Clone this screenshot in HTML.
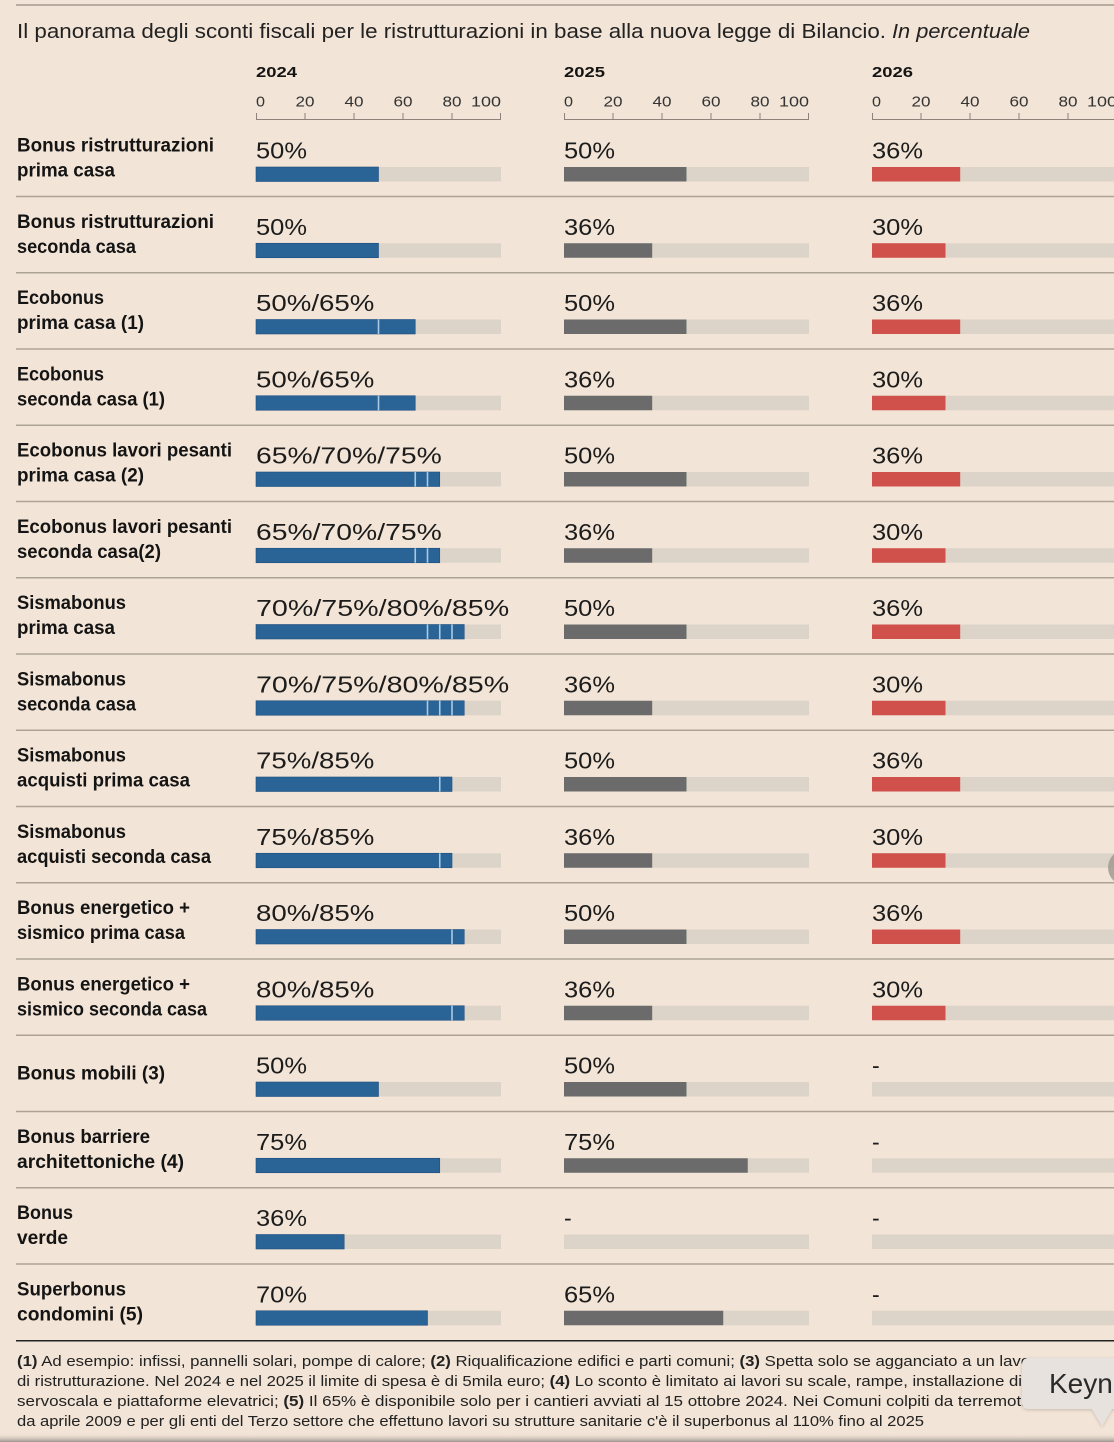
<!DOCTYPE html>
<html><head><meta charset="utf-8">
<style>
html,body{margin:0;padding:0;background:#f2e4d6;}
svg{display:block;}
text{font-family:"Liberation Sans",sans-serif;}
.n{font-size:19px;font-weight:bold;fill:#141414;}
.v{font-size:23px;fill:#1c1c1c;}
.tk{font-size:15px;fill:#333;}
.yr{font-size:15px;font-weight:bold;fill:#141414;}
.t{fill:#ddd4c9;}
.b{fill:#2a6395;stroke:#1f5080;stroke-width:0.6;}
.g{fill:#6b6b6b;}
.r{fill:#d0514b;}
.d{stroke:#a9cae6;stroke-width:1.6;}
.s{stroke:#aea398;stroke-width:1.5;}
.ax{stroke:#8c8279;stroke-width:1;fill:none;}
.f{font-size:15px;fill:#222;}
</style></head>
<body>
<svg width="1114" height="1442" viewBox="0 0 1114 1442" xmlns="http://www.w3.org/2000/svg">
<rect x="0" y="0" width="1114" height="1442" fill="#f2e4d6"/>
<line x1="16" y1="5" x2="1114" y2="5" stroke="#a39a91" stroke-width="1.5"/>

<text x="17" y="38" font-size="20" fill="#222" textLength="869" lengthAdjust="spacingAndGlyphs">Il panorama degli sconti fiscali per le ristrutturazioni in base alla nuova legge di Bilancio.</text>
<text x="892" y="38" font-size="20" font-style="italic" fill="#222" textLength="138" lengthAdjust="spacingAndGlyphs">In percentuale</text>

<!-- axes -->
<g>
<text class="yr" x="256" y="77" textLength="41" lengthAdjust="spacingAndGlyphs">2024</text>
<text class="yr" x="564" y="77" textLength="41" lengthAdjust="spacingAndGlyphs">2025</text>
<text class="yr" x="872" y="77" textLength="41" lengthAdjust="spacingAndGlyphs">2026</text>

<text class="tk" x="256" y="106.5" textLength="9" lengthAdjust="spacingAndGlyphs">0</text>
<text class="tk" x="295.5" y="106.5" textLength="19" lengthAdjust="spacingAndGlyphs">20</text>
<text class="tk" x="344.5" y="106.5" textLength="19" lengthAdjust="spacingAndGlyphs">40</text>
<text class="tk" x="393.5" y="106.5" textLength="19" lengthAdjust="spacingAndGlyphs">60</text>
<text class="tk" x="442.5" y="106.5" textLength="19" lengthAdjust="spacingAndGlyphs">80</text>
<text class="tk" x="471" y="106.5" textLength="30" lengthAdjust="spacingAndGlyphs">100</text>
<path class="ax" d="M256.5 113V119.5H500.5V113M305 113V119.5M354 113V119.5M403 113V119.5M452 113V119.5"/>

<text class="tk" x="564" y="106.5" textLength="9" lengthAdjust="spacingAndGlyphs">0</text>
<text class="tk" x="603.5" y="106.5" textLength="19" lengthAdjust="spacingAndGlyphs">20</text>
<text class="tk" x="652.5" y="106.5" textLength="19" lengthAdjust="spacingAndGlyphs">40</text>
<text class="tk" x="701.5" y="106.5" textLength="19" lengthAdjust="spacingAndGlyphs">60</text>
<text class="tk" x="750.5" y="106.5" textLength="19" lengthAdjust="spacingAndGlyphs">80</text>
<text class="tk" x="779" y="106.5" textLength="30" lengthAdjust="spacingAndGlyphs">100</text>
<path class="ax" d="M564.5 113V119.5H808.5V113M613 113V119.5M662 113V119.5M711 113V119.5M760 113V119.5"/>

<text class="tk" x="872" y="106.5" textLength="9" lengthAdjust="spacingAndGlyphs">0</text>
<text class="tk" x="911.5" y="106.5" textLength="19" lengthAdjust="spacingAndGlyphs">20</text>
<text class="tk" x="960.5" y="106.5" textLength="19" lengthAdjust="spacingAndGlyphs">40</text>
<text class="tk" x="1009.5" y="106.5" textLength="19" lengthAdjust="spacingAndGlyphs">60</text>
<text class="tk" x="1058.5" y="106.5" textLength="19" lengthAdjust="spacingAndGlyphs">80</text>
<text class="tk" x="1087" y="106.5" textLength="30" lengthAdjust="spacingAndGlyphs">100</text>
<path class="ax" d="M872.5 113V119.5H1116.5V113M921 113V119.5M970 113V119.5M1019 113V119.5M1068 113V119.5"/>
</g>

<!-- Row 1 -->
<g transform="translate(0,196.5)">
<text class="n" x="17" y="-45" textLength="197" lengthAdjust="spacingAndGlyphs">Bonus ristrutturazioni</text>
<text class="n" x="17" y="-20" textLength="98" lengthAdjust="spacingAndGlyphs">prima casa</text>
<text class="v" x="256" y="-38" textLength="51" lengthAdjust="spacingAndGlyphs">50%</text>
<rect class="t" x="256" y="-29.5" width="245" height="14.5"/>
<rect class="b" x="256" y="-29.5" width="122.5" height="14.5"/>
<text class="v" x="564" y="-38" textLength="51" lengthAdjust="spacingAndGlyphs">50%</text>
<rect class="t" x="564" y="-29.5" width="245" height="14.5"/>
<rect class="g" x="564" y="-29.5" width="122.5" height="14.5"/>
<text class="v" x="872" y="-38" textLength="51" lengthAdjust="spacingAndGlyphs">36%</text>
<rect class="t" x="872" y="-29.5" width="245" height="14.5"/>
<rect class="r" x="872" y="-29.5" width="88.2" height="14.5"/>
<line class="s" x1="16" y1="0" x2="1114" y2="0"/>
</g>

<!-- Row 2 -->
<g transform="translate(0,272.75)">
<text class="n" x="17" y="-45" textLength="197" lengthAdjust="spacingAndGlyphs">Bonus ristrutturazioni</text>
<text class="n" x="17" y="-20" textLength="119" lengthAdjust="spacingAndGlyphs">seconda casa</text>
<text class="v" x="256" y="-38" textLength="51" lengthAdjust="spacingAndGlyphs">50%</text>
<rect class="t" x="256" y="-29.5" width="245" height="14.5"/>
<rect class="b" x="256" y="-29.5" width="122.5" height="14.5"/>
<text class="v" x="564" y="-38" textLength="51" lengthAdjust="spacingAndGlyphs">36%</text>
<rect class="t" x="564" y="-29.5" width="245" height="14.5"/>
<rect class="g" x="564" y="-29.5" width="88.2" height="14.5"/>
<text class="v" x="872" y="-38" textLength="51" lengthAdjust="spacingAndGlyphs">30%</text>
<rect class="t" x="872" y="-29.5" width="245" height="14.5"/>
<rect class="r" x="872" y="-29.5" width="73.5" height="14.5"/>
<line class="s" x1="16" y1="0" x2="1114" y2="0"/>
</g>

<!-- Row 3 -->
<g transform="translate(0,349)">
<text class="n" x="17" y="-45" textLength="87" lengthAdjust="spacingAndGlyphs">Ecobonus</text>
<text class="n" x="17" y="-20" textLength="127" lengthAdjust="spacingAndGlyphs">prima casa (1)</text>
<text class="v" x="256" y="-38" textLength="118.4" lengthAdjust="spacingAndGlyphs">50%/65%</text>
<rect class="t" x="256" y="-29.5" width="245" height="14.5"/>
<rect class="b" x="256" y="-29.5" width="159.25" height="14.5"/>
<line class="d" x1="378.5" y1="-29.5" x2="378.5" y2="-15"/>
<text class="v" x="564" y="-38" textLength="51" lengthAdjust="spacingAndGlyphs">50%</text>
<rect class="t" x="564" y="-29.5" width="245" height="14.5"/>
<rect class="g" x="564" y="-29.5" width="122.5" height="14.5"/>
<text class="v" x="872" y="-38" textLength="51" lengthAdjust="spacingAndGlyphs">36%</text>
<rect class="t" x="872" y="-29.5" width="245" height="14.5"/>
<rect class="r" x="872" y="-29.5" width="88.2" height="14.5"/>
<line class="s" x1="16" y1="0" x2="1114" y2="0"/>
</g>

<!-- Row 4 -->
<g transform="translate(0,425.25)">
<text class="n" x="17" y="-45" textLength="87" lengthAdjust="spacingAndGlyphs">Ecobonus</text>
<text class="n" x="17" y="-20" textLength="148" lengthAdjust="spacingAndGlyphs">seconda casa (1)</text>
<text class="v" x="256" y="-38" textLength="118.4" lengthAdjust="spacingAndGlyphs">50%/65%</text>
<rect class="t" x="256" y="-29.5" width="245" height="14.5"/>
<rect class="b" x="256" y="-29.5" width="159.25" height="14.5"/>
<line class="d" x1="378.5" y1="-29.5" x2="378.5" y2="-15"/>
<text class="v" x="564" y="-38" textLength="51" lengthAdjust="spacingAndGlyphs">36%</text>
<rect class="t" x="564" y="-29.5" width="245" height="14.5"/>
<rect class="g" x="564" y="-29.5" width="88.2" height="14.5"/>
<text class="v" x="872" y="-38" textLength="51" lengthAdjust="spacingAndGlyphs">30%</text>
<rect class="t" x="872" y="-29.5" width="245" height="14.5"/>
<rect class="r" x="872" y="-29.5" width="73.5" height="14.5"/>
<line class="s" x1="16" y1="0" x2="1114" y2="0"/>
</g>

<!-- Row 5 -->
<g transform="translate(0,501.5)">
<text class="n" x="17" y="-45" textLength="215" lengthAdjust="spacingAndGlyphs">Ecobonus lavori pesanti</text>
<text class="n" x="17" y="-20" textLength="127" lengthAdjust="spacingAndGlyphs">prima casa (2)</text>
<text class="v" x="256" y="-38" textLength="185.8" lengthAdjust="spacingAndGlyphs">65%/70%/75%</text>
<rect class="t" x="256" y="-29.5" width="245" height="14.5"/>
<rect class="b" x="256" y="-29.5" width="183.75" height="14.5"/>
<line class="d" x1="415.25" y1="-29.5" x2="415.25" y2="-15"/>
<line class="d" x1="427.5" y1="-29.5" x2="427.5" y2="-15"/>
<text class="v" x="564" y="-38" textLength="51" lengthAdjust="spacingAndGlyphs">50%</text>
<rect class="t" x="564" y="-29.5" width="245" height="14.5"/>
<rect class="g" x="564" y="-29.5" width="122.5" height="14.5"/>
<text class="v" x="872" y="-38" textLength="51" lengthAdjust="spacingAndGlyphs">36%</text>
<rect class="t" x="872" y="-29.5" width="245" height="14.5"/>
<rect class="r" x="872" y="-29.5" width="88.2" height="14.5"/>
<line class="s" x1="16" y1="0" x2="1114" y2="0"/>
</g>

<!-- Row 6 -->
<g transform="translate(0,577.75)">
<text class="n" x="17" y="-45" textLength="215" lengthAdjust="spacingAndGlyphs">Ecobonus lavori pesanti</text>
<text class="n" x="17" y="-20" textLength="144" lengthAdjust="spacingAndGlyphs">seconda casa(2)</text>
<text class="v" x="256" y="-38" textLength="185.8" lengthAdjust="spacingAndGlyphs">65%/70%/75%</text>
<rect class="t" x="256" y="-29.5" width="245" height="14.5"/>
<rect class="b" x="256" y="-29.5" width="183.75" height="14.5"/>
<line class="d" x1="415.25" y1="-29.5" x2="415.25" y2="-15"/>
<line class="d" x1="427.5" y1="-29.5" x2="427.5" y2="-15"/>
<text class="v" x="564" y="-38" textLength="51" lengthAdjust="spacingAndGlyphs">36%</text>
<rect class="t" x="564" y="-29.5" width="245" height="14.5"/>
<rect class="g" x="564" y="-29.5" width="88.2" height="14.5"/>
<text class="v" x="872" y="-38" textLength="51" lengthAdjust="spacingAndGlyphs">30%</text>
<rect class="t" x="872" y="-29.5" width="245" height="14.5"/>
<rect class="r" x="872" y="-29.5" width="73.5" height="14.5"/>
<line class="s" x1="16" y1="0" x2="1114" y2="0"/>
</g>

<!-- Row 7 -->
<g transform="translate(0,654)">
<text class="n" x="17" y="-45" textLength="109" lengthAdjust="spacingAndGlyphs">Sismabonus</text>
<text class="n" x="17" y="-20" textLength="98" lengthAdjust="spacingAndGlyphs">prima casa</text>
<text class="v" x="256" y="-38" textLength="253.2" lengthAdjust="spacingAndGlyphs">70%/75%/80%/85%</text>
<rect class="t" x="256" y="-29.5" width="245" height="14.5"/>
<rect class="b" x="256" y="-29.5" width="208.25" height="14.5"/>
<line class="d" x1="427.5" y1="-29.5" x2="427.5" y2="-15"/>
<line class="d" x1="439.75" y1="-29.5" x2="439.75" y2="-15"/>
<line class="d" x1="452" y1="-29.5" x2="452" y2="-15"/>
<text class="v" x="564" y="-38" textLength="51" lengthAdjust="spacingAndGlyphs">50%</text>
<rect class="t" x="564" y="-29.5" width="245" height="14.5"/>
<rect class="g" x="564" y="-29.5" width="122.5" height="14.5"/>
<text class="v" x="872" y="-38" textLength="51" lengthAdjust="spacingAndGlyphs">36%</text>
<rect class="t" x="872" y="-29.5" width="245" height="14.5"/>
<rect class="r" x="872" y="-29.5" width="88.2" height="14.5"/>
<line class="s" x1="16" y1="0" x2="1114" y2="0"/>
</g>

<!-- Row 8 -->
<g transform="translate(0,730.25)">
<text class="n" x="17" y="-45" textLength="109" lengthAdjust="spacingAndGlyphs">Sismabonus</text>
<text class="n" x="17" y="-20" textLength="119" lengthAdjust="spacingAndGlyphs">seconda casa</text>
<text class="v" x="256" y="-38" textLength="253.2" lengthAdjust="spacingAndGlyphs">70%/75%/80%/85%</text>
<rect class="t" x="256" y="-29.5" width="245" height="14.5"/>
<rect class="b" x="256" y="-29.5" width="208.25" height="14.5"/>
<line class="d" x1="427.5" y1="-29.5" x2="427.5" y2="-15"/>
<line class="d" x1="439.75" y1="-29.5" x2="439.75" y2="-15"/>
<line class="d" x1="452" y1="-29.5" x2="452" y2="-15"/>
<text class="v" x="564" y="-38" textLength="51" lengthAdjust="spacingAndGlyphs">36%</text>
<rect class="t" x="564" y="-29.5" width="245" height="14.5"/>
<rect class="g" x="564" y="-29.5" width="88.2" height="14.5"/>
<text class="v" x="872" y="-38" textLength="51" lengthAdjust="spacingAndGlyphs">30%</text>
<rect class="t" x="872" y="-29.5" width="245" height="14.5"/>
<rect class="r" x="872" y="-29.5" width="73.5" height="14.5"/>
<line class="s" x1="16" y1="0" x2="1114" y2="0"/>
</g>

<!-- Row 9 -->
<g transform="translate(0,806.5)">
<text class="n" x="17" y="-45" textLength="109" lengthAdjust="spacingAndGlyphs">Sismabonus</text>
<text class="n" x="17" y="-20" textLength="173" lengthAdjust="spacingAndGlyphs">acquisti prima casa</text>
<text class="v" x="256" y="-38" textLength="118.4" lengthAdjust="spacingAndGlyphs">75%/85%</text>
<rect class="t" x="256" y="-29.5" width="245" height="14.5"/>
<rect class="b" x="256" y="-29.5" width="196" height="14.5"/>
<line class="d" x1="439.75" y1="-29.5" x2="439.75" y2="-15"/>
<text class="v" x="564" y="-38" textLength="51" lengthAdjust="spacingAndGlyphs">50%</text>
<rect class="t" x="564" y="-29.5" width="245" height="14.5"/>
<rect class="g" x="564" y="-29.5" width="122.5" height="14.5"/>
<text class="v" x="872" y="-38" textLength="51" lengthAdjust="spacingAndGlyphs">36%</text>
<rect class="t" x="872" y="-29.5" width="245" height="14.5"/>
<rect class="r" x="872" y="-29.5" width="88.2" height="14.5"/>
<line class="s" x1="16" y1="0" x2="1114" y2="0"/>
</g>

<!-- Row 10 -->
<g transform="translate(0,882.75)">
<text class="n" x="17" y="-45" textLength="109" lengthAdjust="spacingAndGlyphs">Sismabonus</text>
<text class="n" x="17" y="-20" textLength="194" lengthAdjust="spacingAndGlyphs">acquisti seconda casa</text>
<text class="v" x="256" y="-38" textLength="118.4" lengthAdjust="spacingAndGlyphs">75%/85%</text>
<rect class="t" x="256" y="-29.5" width="245" height="14.5"/>
<rect class="b" x="256" y="-29.5" width="196" height="14.5"/>
<line class="d" x1="439.75" y1="-29.5" x2="439.75" y2="-15"/>
<text class="v" x="564" y="-38" textLength="51" lengthAdjust="spacingAndGlyphs">36%</text>
<rect class="t" x="564" y="-29.5" width="245" height="14.5"/>
<rect class="g" x="564" y="-29.5" width="88.2" height="14.5"/>
<text class="v" x="872" y="-38" textLength="51" lengthAdjust="spacingAndGlyphs">30%</text>
<rect class="t" x="872" y="-29.5" width="245" height="14.5"/>
<rect class="r" x="872" y="-29.5" width="73.5" height="14.5"/>
<line class="s" x1="16" y1="0" x2="1114" y2="0"/>
</g>

<!-- Row 11 -->
<g transform="translate(0,959)">
<text class="n" x="17" y="-45" textLength="173" lengthAdjust="spacingAndGlyphs">Bonus energetico +</text>
<text class="n" x="17" y="-20" textLength="168" lengthAdjust="spacingAndGlyphs">sismico prima casa</text>
<text class="v" x="256" y="-38" textLength="118.4" lengthAdjust="spacingAndGlyphs">80%/85%</text>
<rect class="t" x="256" y="-29.5" width="245" height="14.5"/>
<rect class="b" x="256" y="-29.5" width="208.25" height="14.5"/>
<line class="d" x1="452" y1="-29.5" x2="452" y2="-15"/>
<text class="v" x="564" y="-38" textLength="51" lengthAdjust="spacingAndGlyphs">50%</text>
<rect class="t" x="564" y="-29.5" width="245" height="14.5"/>
<rect class="g" x="564" y="-29.5" width="122.5" height="14.5"/>
<text class="v" x="872" y="-38" textLength="51" lengthAdjust="spacingAndGlyphs">36%</text>
<rect class="t" x="872" y="-29.5" width="245" height="14.5"/>
<rect class="r" x="872" y="-29.5" width="88.2" height="14.5"/>
<line class="s" x1="16" y1="0" x2="1114" y2="0"/>
</g>

<!-- Row 12 -->
<g transform="translate(0,1035.25)">
<text class="n" x="17" y="-45" textLength="173" lengthAdjust="spacingAndGlyphs">Bonus energetico +</text>
<text class="n" x="17" y="-20" textLength="190" lengthAdjust="spacingAndGlyphs">sismico seconda casa</text>
<text class="v" x="256" y="-38" textLength="118.4" lengthAdjust="spacingAndGlyphs">80%/85%</text>
<rect class="t" x="256" y="-29.5" width="245" height="14.5"/>
<rect class="b" x="256" y="-29.5" width="208.25" height="14.5"/>
<line class="d" x1="452" y1="-29.5" x2="452" y2="-15"/>
<text class="v" x="564" y="-38" textLength="51" lengthAdjust="spacingAndGlyphs">36%</text>
<rect class="t" x="564" y="-29.5" width="245" height="14.5"/>
<rect class="g" x="564" y="-29.5" width="88.2" height="14.5"/>
<text class="v" x="872" y="-38" textLength="51" lengthAdjust="spacingAndGlyphs">30%</text>
<rect class="t" x="872" y="-29.5" width="245" height="14.5"/>
<rect class="r" x="872" y="-29.5" width="73.5" height="14.5"/>
<line class="s" x1="16" y1="0" x2="1114" y2="0"/>
</g>

<!-- Row 13 -->
<g transform="translate(0,1111.5)">
<text class="n" x="17" y="-32" textLength="148" lengthAdjust="spacingAndGlyphs">Bonus mobili (3)</text>
<text class="v" x="256" y="-38" textLength="51" lengthAdjust="spacingAndGlyphs">50%</text>
<rect class="t" x="256" y="-29.5" width="245" height="14.5"/>
<rect class="b" x="256" y="-29.5" width="122.5" height="14.5"/>
<text class="v" x="564" y="-38" textLength="51" lengthAdjust="spacingAndGlyphs">50%</text>
<rect class="t" x="564" y="-29.5" width="245" height="14.5"/>
<rect class="g" x="564" y="-29.5" width="122.5" height="14.5"/>
<text class="v" x="872" y="-38">-</text>
<rect class="t" x="872" y="-29.5" width="245" height="14.5"/>
<line class="s" x1="16" y1="0" x2="1114" y2="0"/>
</g>

<!-- Row 14 -->
<g transform="translate(0,1187.75)">
<text class="n" x="17" y="-45" textLength="133" lengthAdjust="spacingAndGlyphs">Bonus barriere</text>
<text class="n" x="17" y="-20" textLength="167" lengthAdjust="spacingAndGlyphs">architettoniche (4)</text>
<text class="v" x="256" y="-38" textLength="51" lengthAdjust="spacingAndGlyphs">75%</text>
<rect class="t" x="256" y="-29.5" width="245" height="14.5"/>
<rect class="b" x="256" y="-29.5" width="183.75" height="14.5"/>
<text class="v" x="564" y="-38" textLength="51" lengthAdjust="spacingAndGlyphs">75%</text>
<rect class="t" x="564" y="-29.5" width="245" height="14.5"/>
<rect class="g" x="564" y="-29.5" width="183.75" height="14.5"/>
<text class="v" x="872" y="-38">-</text>
<rect class="t" x="872" y="-29.5" width="245" height="14.5"/>
<line class="s" x1="16" y1="0" x2="1114" y2="0"/>
</g>

<!-- Row 15 -->
<g transform="translate(0,1264)">
<text class="n" x="17" y="-45" textLength="56" lengthAdjust="spacingAndGlyphs">Bonus</text>
<text class="n" x="17" y="-20" textLength="51" lengthAdjust="spacingAndGlyphs">verde</text>
<text class="v" x="256" y="-38" textLength="51" lengthAdjust="spacingAndGlyphs">36%</text>
<rect class="t" x="256" y="-29.5" width="245" height="14.5"/>
<rect class="b" x="256" y="-29.5" width="88.2" height="14.5"/>
<text class="v" x="564" y="-38">-</text>
<rect class="t" x="564" y="-29.5" width="245" height="14.5"/>
<text class="v" x="872" y="-38">-</text>
<rect class="t" x="872" y="-29.5" width="245" height="14.5"/>
<line class="s" x1="16" y1="0" x2="1114" y2="0"/>
</g>

<!-- Row 16 -->
<g transform="translate(0,1340.25)">
<text class="n" x="17" y="-45" textLength="109" lengthAdjust="spacingAndGlyphs">Superbonus</text>
<text class="n" x="17" y="-20" textLength="126" lengthAdjust="spacingAndGlyphs">condomini (5)</text>
<text class="v" x="256" y="-38" textLength="51" lengthAdjust="spacingAndGlyphs">70%</text>
<rect class="t" x="256" y="-29.5" width="245" height="14.5"/>
<rect class="b" x="256" y="-29.5" width="171.5" height="14.5"/>
<text class="v" x="564" y="-38" textLength="51" lengthAdjust="spacingAndGlyphs">65%</text>
<rect class="t" x="564" y="-29.5" width="245" height="14.5"/>
<rect class="g" x="564" y="-29.5" width="159.25" height="14.5"/>
<text class="v" x="872" y="-38">-</text>
<rect class="t" x="872" y="-29.5" width="245" height="14.5"/>
<line x1="16" y1="0.5" x2="1114" y2="0.5" stroke="#222" stroke-width="1.6"/>
</g>

<!-- Footnotes -->
<text class="f" x="17" y="1366" textLength="1028" lengthAdjust="spacingAndGlyphs"><tspan font-weight="bold">(1)</tspan> Ad esempio: infissi, pannelli solari, pompe di calore; <tspan font-weight="bold">(2)</tspan> Riqualificazione edifici e parti comuni; <tspan font-weight="bold">(3)</tspan> Spetta solo se agganciato a un lavoro</text>
<text class="f" x="17" y="1386" textLength="1005" lengthAdjust="spacingAndGlyphs">di ristrutturazione. Nel 2024 e nel 2025 il limite di spesa è di 5mila euro; <tspan font-weight="bold">(4)</tspan> Lo sconto è limitato ai lavori su scale, rampe, installazione di</text>
<text class="f" x="17" y="1406" textLength="1008" lengthAdjust="spacingAndGlyphs">servoscala e piattaforme elevatrici; <tspan font-weight="bold">(5)</tspan> Il 65% è disponibile solo per i cantieri avviati al 15 ottobre 2024. Nei Comuni colpiti da terremoti</text>
<text class="f" x="17" y="1426" textLength="907" lengthAdjust="spacingAndGlyphs">da aprile 2009 e per gli enti del Terzo settore che effettuno lavori su strutture sanitarie c'è il superbonus al 110% fino al 2025</text>

<!-- bottom shadow -->
<defs>
<linearGradient id="bs" x1="0" y1="0" x2="0" y2="1">
<stop offset="0" stop-color="#f2e4d6" stop-opacity="0"/>
<stop offset="1" stop-color="#9a958f"/>
</linearGradient>
<filter id="sh" x="-20%" y="-20%" width="140%" height="160%">
<feDropShadow dx="0" dy="1" stdDeviation="1.5" flood-color="#000" flood-opacity="0.18"/>
</filter>
</defs>
<rect x="0" y="1433" width="1114" height="9" fill="url(#bs)"/>

<!-- scroll indicator -->
<circle cx="1126" cy="867.5" r="18" fill="#a29a92" opacity="0.85"/>

<!-- tooltip -->
<path d="M1029 1358 H1120 V1409 H1112 L1102 1426 L1092 1409 H1029 Q1022 1409 1022 1402 V1365 Q1022 1358 1029 1358 Z" fill="#e7e2dd" filter="url(#sh)"/>
<text x="1049" y="1393" font-size="28" fill="#2a2a2a">Keyn</text>
</svg>
</body></html>
